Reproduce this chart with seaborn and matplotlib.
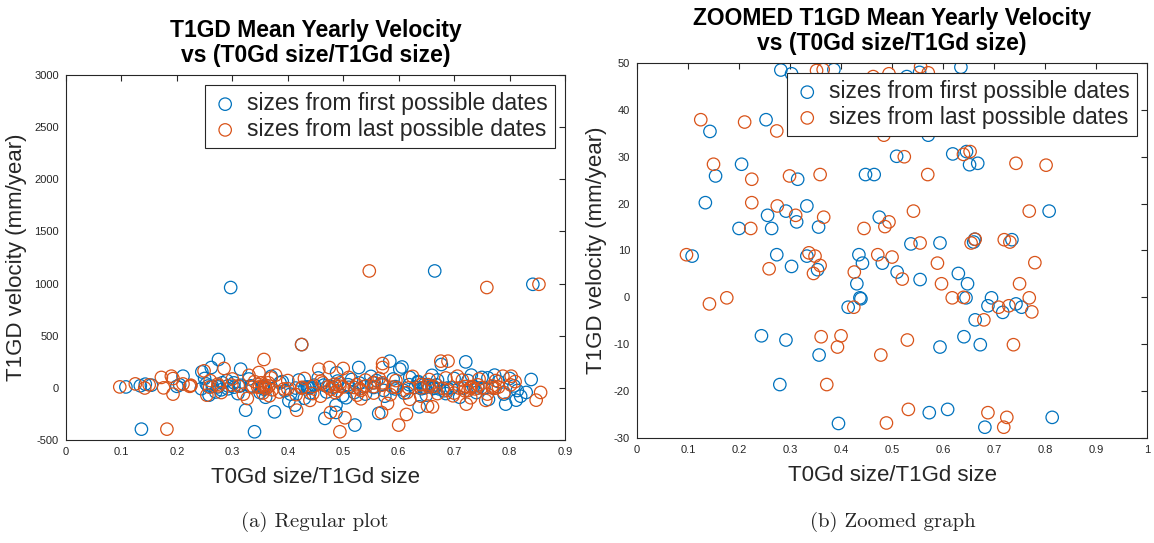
import numpy as np
import matplotlib
matplotlib.use("Agg")
import matplotlib.pyplot as plt
import seaborn as sns

# Velocities for sizes taken from the first possible dates (values inside -30..50 mm/year)
first_x_core = [0.282, 0.303, 0.386, 0.529, 0.554, 0.635, 0.253, 0.143, 0.154, 0.205, 0.134, 0.200,
                0.264, 0.256, 0.292, 0.313, 0.315, 0.333, 0.356, 0.448, 0.465, 0.475, 0.509, 0.537,
                0.594, 0.619, 0.646, 0.652, 0.668, 0.660, 0.662, 0.735, 0.571, 0.808,
                0.108, 0.244, 0.274, 0.303, 0.292, 0.280, 0.333, 0.354, 0.357, 0.395, 0.414, 0.431,
                0.435, 0.442, 0.437, 0.439, 0.481, 0.510, 0.555, 0.573, 0.594, 0.609, 0.630, 0.641,
                0.645, 0.648, 0.663, 0.673, 0.688, 0.695, 0.682, 0.717, 0.743, 0.754, 0.814]
first_y_core = [48.5, 47.7, 48.6, 47.1, 48.0, 49.1, 37.9, 35.4, 25.9, 28.4, 20.2, 14.7,
                14.7, 17.5, 18.4, 16.1, 25.2, 19.5, 15.0, 26.2, 26.2, 17.1, 30.1, 11.4,
                11.6, 30.6, 31.1, 28.3, 28.6, 11.8, 12.4, 12.3, 34.6, 18.4,
                8.8, -8.2, 9.1, 6.6, -9.1, -18.6, 8.8, 5.9, -12.3, -26.9, -2.1, 2.9,
                9.1, 7.3, -0.1, -0.3, 7.3, 5.4, 3.8, -24.6, -10.6, -23.9, 5.1, -8.4,
                -0.1, 2.9, -4.8, -10.1, -1.8, -0.1, -27.7, -3.2, -1.4, -2.1, -25.6]

# Velocities for sizes taken from the first possible dates (outside the zoomed window)
first_x_wide = [0.297, 0.665, 0.842, 0.425, 0.136, 0.340, 0.521, 0.467, 0.487, 0.487, 0.324, 0.376,
                0.564, 0.637, 0.793, 0.812, 0.830, 0.839, 0.762, 0.413, 0.402, 0.258, 0.499, 0.275,
                0.584, 0.677, 0.721, 0.528, 0.315, 0.245, 0.262, 0.488, 0.602, 0.606, 0.211, 0.761,
                0.731, 0.773,
                0.250, 0.270, 0.290, 0.310, 0.330, 0.350, 0.370, 0.390, 0.405, 0.420, 0.440, 0.455,
                0.470, 0.490, 0.505, 0.515, 0.540, 0.550, 0.560, 0.575, 0.590, 0.610, 0.620, 0.635,
                0.650, 0.660, 0.670, 0.685, 0.700, 0.710, 0.725, 0.740, 0.750, 0.780, 0.790, 0.800,
                0.820, 0.360, 0.430, 0.520]
first_y_wide = [962, 1121, 993, 415, -396, -421, -357, -293, -236, -166, -214, -230,
                -245, -182, -156, -118, -44, 80, -110, -166, -124, -70, -76, 272,
                256, 224, 249, 195, 179, 153, 195, 144, 179, 200, 112, 96,
                122, 122,
                90, -40, 70, -55, 85, -45, 110, 60, -60, 75, -50, 95,
                -40, 65, -95, 80, -60, 110, 70, -80, 85, -50, 100, 60,
                -70, 120, 75, -55, 90, -90, 70, -45, 100, 60, -60, 90,
                -80, -90, -100, -45]

# Velocities for sizes taken from the last possible dates (values inside -30..50 mm/year)
last_x_core = [0.352, 0.365, 0.463, 0.494, 0.556, 0.571, 0.125, 0.211, 0.274, 0.484, 0.150, 0.225,
               0.299, 0.359, 0.524, 0.570, 0.640, 0.653, 0.743, 0.802, 0.225, 0.275, 0.311, 0.366,
               0.223, 0.445, 0.486, 0.494, 0.542, 0.769, 0.555, 0.655, 0.663, 0.720, 0.731,
               0.097, 0.142, 0.176, 0.259, 0.337, 0.349, 0.346, 0.359, 0.361, 0.400, 0.393, 0.372,
               0.426, 0.425, 0.472, 0.500, 0.478, 0.520, 0.530, 0.489, 0.532, 0.589, 0.597, 0.618,
               0.640, 0.680, 0.688, 0.719, 0.725, 0.709, 0.729, 0.738, 0.750, 0.780, 0.769, 0.774]
last_y_core = [48.4, 48.6, 47.1, 47.7, 49.2, 47.9, 37.9, 37.4, 35.5, 34.6, 28.4, 25.2,
               25.9, 26.2, 30.0, 26.2, 30.5, 31.1, 28.6, 28.2, 20.2, 19.5, 17.5, 17.1,
               14.7, 14.7, 15.1, 16.1, 18.4, 18.4, 11.6, 11.6, 12.4, 12.3, 11.8,
               9.1, -1.4, -0.1, 6.1, 9.5, 8.8, 5.1, 6.8, -8.4, -8.2, -10.6, -18.6,
               5.4, -2.1, 9.1, 8.6, -12.3, 3.9, -9.1, -26.8, -23.9, 7.3, 2.9, -0.1,
               0.0, -4.8, -24.6, -27.7, -25.6, -2.1, -1.8, -10.1, 2.9, 7.4, -0.1, -3.1]

# Velocities for sizes taken from the last possible dates (outside the zoomed window)
last_x_wide = [0.547, 0.759, 0.853, 0.425, 0.182, 0.494, 0.600, 0.503, 0.477, 0.569, 0.614, 0.661,
               0.848, 0.856, 0.722, 0.757, 0.416, 0.327, 0.254, 0.193, 0.459, 0.367, 0.532, 0.580,
               0.698, 0.357, 0.571, 0.571, 0.676, 0.689, 0.285, 0.249, 0.456, 0.475, 0.500, 0.172,
               0.190, 0.193, 0.348, 0.378, 0.706, 0.788, 0.803, 0.652,
               0.260, 0.280, 0.300, 0.320, 0.340, 0.355, 0.370, 0.385, 0.400, 0.415, 0.430, 0.445,
               0.460, 0.485, 0.510, 0.525, 0.540, 0.555, 0.565, 0.585, 0.595, 0.615, 0.625, 0.640,
               0.655, 0.670, 0.685, 0.700, 0.715, 0.730, 0.745, 0.760, 0.775, 0.790, 0.810, 0.440,
               0.620, 0.330]
last_y_wide = [1121, 962, 993, 415, -396, -421, -357, -287, -236, -236, -255, -182,
               -118, -44, -156, -120, -214, -102, -70, -60, -80, -76, -105, -150,
               -76, 272, 233, 195, 256, 256, 186, 163, 179, 195, 186, 100,
               112, 89, 147, 122, 112, 112, 112, -175,
               70, -45, 85, -60, 60, -50, 95, -40, 70, -65, 90, -55,
               65, -45, 100, -70, 75, -50, 90, -65, 70, -45, 110, -80,
               80, -55, 95, -50, 75, -95, 85, -60, 70, -45, 60, -120,
               -110, 120]

first_x = first_x_core + first_x_wide
first_y = first_y_core + first_y_wide
last_x = last_x_core + last_x_wide
last_y = last_y_core + last_y_wide

BLUE = "#0072BD"
ORANGE = "#D95319"
AX_COLOR = "#262626"

sns.set_style("white")
plt.rcParams["font.family"] = ["Liberation Sans", "DejaVu Sans"]

fig = plt.figure(figsize=(11.54, 5.43), dpi=100)
ax1 = fig.add_axes([0.0572, 0.1897, 0.4324, 0.6722])
ax2 = fig.add_axes([0.5520, 0.1934, 0.4420, 0.6906])

marker_kw = dict(marker="o", s=80, facecolor="none", linewidth=0.9)


def draw(ax, xlim, ylim, xticks, yticks, title):
    sns.scatterplot(x=first_x, y=first_y, ax=ax, edgecolor=BLUE, color=BLUE,
                    label="sizes from first possible dates", **marker_kw)
    sns.scatterplot(x=last_x, y=last_y, ax=ax, edgecolor=ORANGE, color=ORANGE,
                    label="sizes from last possible dates", **marker_kw)
    ax.set_xlim(*xlim)
    ax.set_ylim(*ylim)
    ax.set_xticks(xticks)
    ax.set_xticklabels([("%g" % t) for t in xticks])
    ax.set_yticks(yticks)
    ax.set_yticklabels([("%g" % t) for t in yticks])
    ax.tick_params(direction="in", top=True, right=True, length=4, width=0.8,
                   labelsize=8, colors=AX_COLOR, pad=5)
    for sp in ax.spines.values():
        sp.set_color(AX_COLOR)
        sp.set_linewidth(0.8)
    ax.set_xlabel("T0Gd size/T1Gd size", fontsize=16, color=AX_COLOR, labelpad=7)
    ax.set_ylabel("T1GD velocity (mm/year)", fontsize=16, color=AX_COLOR, labelpad=5)
    ax.set_title(title, fontsize=16.5, fontweight="bold", color="black", pad=9,
                 linespacing=1.15)
    leg = ax.legend(loc="upper right", fontsize=16.5, frameon=True, fancybox=False,
                    borderaxespad=0.45, handletextpad=0.39, borderpad=0.3,
                    labelspacing=0.12, markerscale=1.0, handlelength=1.13)
    leg.get_frame().set_edgecolor(AX_COLOR)
    leg.get_frame().set_linewidth(0.8)
    leg.get_frame().set_alpha(1.0)


draw(ax1, (0, 0.9), (-500, 3000), np.round(np.arange(0, 0.91, 0.1), 1),
     np.arange(-500, 3001, 500),
     "T1GD Mean Yearly Velocity\nvs (T0Gd size/T1Gd size)")
draw(ax2, (0, 1.0), (-30, 50), np.round(np.arange(0, 1.01, 0.1), 1),
     np.arange(-30, 51, 10),
     "ZOOMED T1GD Mean Yearly Velocity\nvs (T0Gd size/T1Gd size)")

fig.text(0.273, 0.03, "(a) Regular plot", fontsize=15, family="cmr10", ha="center")
fig.text(0.774, 0.03, "(b) Zoomed graph", fontsize=15, family="cmr10", ha="center")

fig.savefig("out.png", dpi=100, facecolor="white")
